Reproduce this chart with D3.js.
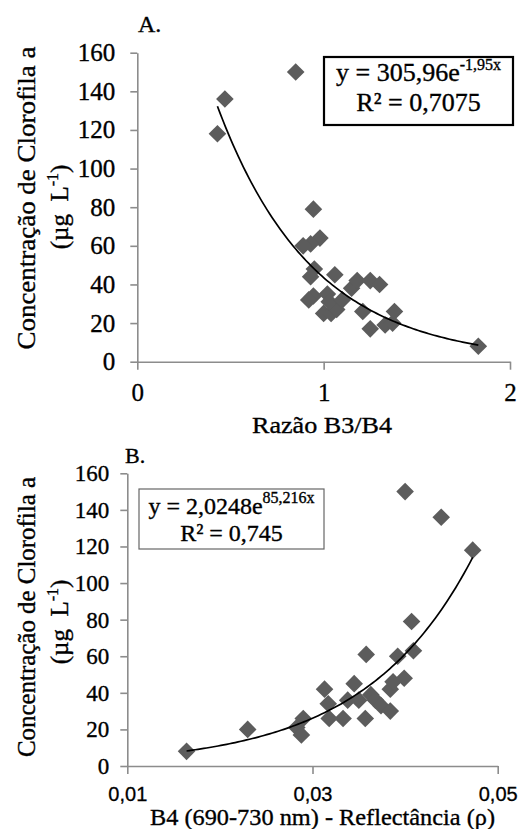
<!DOCTYPE html>
<html>
<head>
<meta charset="utf-8">
<script src="https://cdnjs.cloudflare.com/ajax/libs/d3/7.8.5/d3.min.js"></script>
<style>
  body { margin: 0; background: #fff; }
</style>
</head>
<body>
<svg id="chart" width="527" height="829"></svg>
<script>
// panel A: razão B3/B4 x clorofila
var ratioB3B4 = [0.43, 0.47, 0.85, 0.945, 0.98, 0.93, 0.89, 0.95, 0.93, 1.06, 0.945, 0.92, 1.02, 1.0,
  1.04, 1.07, 1.03, 1.1, 1.15, 1.18, 1.25, 1.30, 1.21, 1.25, 1.33, 1.37, 1.38, 1.83];
var chlByRatio = [118, 136, 150, 79, 64, 61, 60, 48, 44, 45, 34, 32, 35, 25,
  25, 27, 31, 32, 38, 42, 42, 40, 26, 17, 19, 20, 26, 8];

// panel B: reflectância B4 x clorofila
var reflB4 = [0.0164, 0.023, 0.0283, 0.0288, 0.029, 0.0313, 0.0317, 0.0318, 0.0333, 0.0338, 0.0345,
  0.035, 0.0357, 0.0358, 0.0363, 0.0368, 0.0374, 0.0384, 0.0384, 0.0387, 0.0392, 0.0399, 0.0400,
  0.0407, 0.0409, 0.0439, 0.0473];
var chlByRefl = [8, 20, 21, 17, 26, 42, 34, 26, 26, 36, 45,
  36, 26, 61, 39, 36, 33, 30, 42, 46, 60, 48, 150,
  79, 63, 136, 118];

var chlTicks = [0, 20, 40, 60, 80, 100, 120, 140, 160];
var ratioTicks = [0, 1, 2];
var reflTicks = [0.01, 0.03, 0.05];

var fitRatio = [305.96, -1.95];
var fitRefl = [2.0248, 85.216];
var eqRatio = ['y = 305,96e', '-1,95x', 'R² = 0,7075'];
var eqRefl = ['y = 2,0248e', '85,216x', 'R² = 0,745'];

var SERIF = '"Liberation Serif", "Times New Roman", serif';
var SANS = '"Liberation Sans", Arial, sans-serif';

var Panel = function(svg, cfg) {
  'use strict';
  this.svg = svg;
  this.cfg = cfg;
  this.init();
};

Panel.prototype = {
  init: function() {
    var c = this.cfg;
    this.x = d3.scaleLinear().domain(c.xDomain).range([c.left, c.right]);
    this.y = d3.scaleLinear().domain([0, 160]).range([c.bottom, c.top]);
    this.main = this.svg.append('g');
  },

  render: function() {
    this.drawAxes();
    this.drawPoints();
    this.drawFit();
    this.drawLabels();
    this.drawEquation();
  },

  // scanned figure: text a bit heavier than plain Times
  text: function(size, family) {
    return this.main.append('text')
      .style('font-family', family || SERIF)
      .style('font-size', size + 'px')
      .attr('fill', '#000')
      .attr('stroke', '#000')
      .attr('stroke-width', 0.35);
  },

  drawAxes: function() {
    var c = this.cfg;
    var yAxis = d3.axisLeft(this.y)
      .tickValues(chlTicks)
      .tickSize(7)
      .tickSizeOuter(0)
      .tickPadding(c.yPad);
    var xAxis = d3.axisBottom(this.x)
      .tickValues(c.xTicks)
      .tickSize(8)
      .tickSizeOuter(0)
      .tickPadding(c.xPad)
      .tickFormat(function(d) { return String(d).replace('.', ','); });

    var gy = this.main.append('g')
      .attr('transform', 'translate(' + c.left + ',0)')
      .call(yAxis);
    var gx = this.main.append('g')
      .attr('transform', 'translate(0,' + c.bottom + ')')
      .call(xAxis);

    [gy, gx].forEach(function(g) {
      g.select('.domain').attr('stroke', '#8c8c8c').attr('stroke-width', 1.6);
      g.selectAll('.tick line').attr('stroke', '#8c8c8c').attr('stroke-width', 1.6);
    });
    gy.selectAll('.tick text')
      .attr('fill', '#000')
      .attr('stroke', '#000')
      .attr('stroke-width', 0.35)
      .style('font-family', SERIF)
      .style('font-size', c.yTickSize + 'px');
    gx.selectAll('.tick text')
      .attr('fill', '#000')
      .attr('stroke', '#000')
      .attr('stroke-width', 0.3)
      .style('font-family', c.xTickFont)
      .style('font-size', c.xTickSize + 'px');
  },

  drawPoints: function() {
    var self = this;
    var c = this.cfg;
    var diamond = d3.symbol().type(d3.symbolSquare).size(155);
    this.main.append('g')
      .selectAll('path')
      .data(c.xs)
      .enter()
      .append('path')
      .attr('d', diamond)
      .attr('fill', '#5c5c5c')
      .attr('transform', function(d, i) {
        return 'translate(' + self.x(d) + ',' + self.y(c.ys[i]) + ') rotate(45)';
      });
  },

  drawFit: function() {
    var c = this.cfg;
    var a = c.fit[0];
    var b = c.fit[1];
    var ext = d3.extent(c.xs);
    var xs = d3.range(0, 101).map(function(k) { return ext[0] + (ext[1] - ext[0]) * k / 100; });
    var line = d3.line()
      .x(function(d) { return this.x(d); }.bind(this))
      .y(function(d) { return this.y(a * Math.exp(b * d)); }.bind(this));
    this.main.append('path')
      .attr('d', line(xs))
      .attr('fill', 'none')
      .attr('stroke', '#000')
      .attr('stroke-width', 1.7);
  },

  drawLabels: function() {
    var c = this.cfg;
    this.text(c.tag[3])
      .attr('x', c.tag[1])
      .attr('y', c.tag[2])
      .text(c.tag[0]);

    this.text(24)
      .attr('x', c.xLabel[1])
      .attr('y', c.xLabel[2])
      .attr('text-anchor', 'middle')
      .attr('textLength', c.xLabel[3])
      .attr('lengthAdjust', 'spacingAndGlyphs')
      .text(c.xLabel[0]);

    var yl = c.yLabel;
    this.text(25)
      .attr('transform', 'translate(' + yl[0] + ',' + yl[1] + ') rotate(-90)')
      .attr('text-anchor', 'middle')
      .attr('textLength', yl[2])
      .attr('lengthAdjust', 'spacingAndGlyphs')
      .text('Concentração de Clorofila a');

    var t2 = this.text(25)
      .attr('transform', 'translate(' + yl[3] + ',' + yl[4] + ') rotate(-90)')
      .attr('text-anchor', 'middle');
    t2.append('tspan').text('(µg\u00a0\u00a0L');
    t2.append('tspan').attr('dy', -10).style('font-size', '16px').text('-1');
    t2.append('tspan').attr('dy', 10).text(')');
  },

  drawEquation: function() {
    var c = this.cfg;
    var b = c.box;
    this.main.append('rect')
      .attr('x', b[0])
      .attr('y', b[1])
      .attr('width', b[2] - b[0])
      .attr('height', b[3] - b[1])
      .attr('fill', '#fff')
      .attr('stroke', c.boxStroke[0])
      .attr('stroke-width', c.boxStroke[1]);

    var cx = (b[0] + b[2]) / 2;
    var l1 = this.text(c.eqSize)
      .attr('x', cx)
      .attr('y', c.eqY[0])
      .attr('text-anchor', 'middle');
    l1.append('tspan').text(c.eq[0]);
    l1.append('tspan').attr('dy', -11).style('font-size', '16px').text(c.eq[1]);

    this.text(c.eqSize)
      .attr('x', cx)
      .attr('y', c.eqY[1])
      .attr('text-anchor', 'middle')
      .text(c.eq[2]);
  }
};

var svg = d3.select('#chart');

new Panel(svg, {
  xs: ratioB3B4, ys: chlByRatio, fit: fitRatio, eq: eqRatio,
  xDomain: [0, 2], xTicks: ratioTicks,
  left: 137.3, right: 510, top: 52.7, bottom: 361.7,
  yPad: 15, yTickSize: 25, xPad: 14, xTickFont: SERIF, xTickSize: 25,
  tag: ['A.', 138, 32, 24],
  xLabel: ['Razão B3/B4', 322, 433, 140],
  yLabel: [35, 198, 303, 68, 207],
  box: [324, 57, 513, 125], boxStroke: ['#000', 2.2], eqY: [81, 111], eqSize: 26
}).render();

new Panel(svg, {
  xs: reflB4, ys: chlByRefl, fit: fitRefl, eq: eqRefl,
  xDomain: [0.01, 0.05], xTicks: reflTicks,
  left: 127.3, right: 497.7, top: 473.3, bottom: 766,
  yPad: 11, yTickSize: 23, xPad: 13, xTickFont: SANS, xTickSize: 20,
  tag: ['B.', 125, 463, 22],
  xLabel: ['B4 (690-730 nm) - Reflectância (ρ)', 322.5, 825, 345],
  yLabel: [35, 617, 280, 68, 622],
  box: [139, 489, 324, 549], boxStroke: ['#666', 1.2], eqY: [514, 541], eqSize: 24
}).render();
</script>
</body>
</html>
